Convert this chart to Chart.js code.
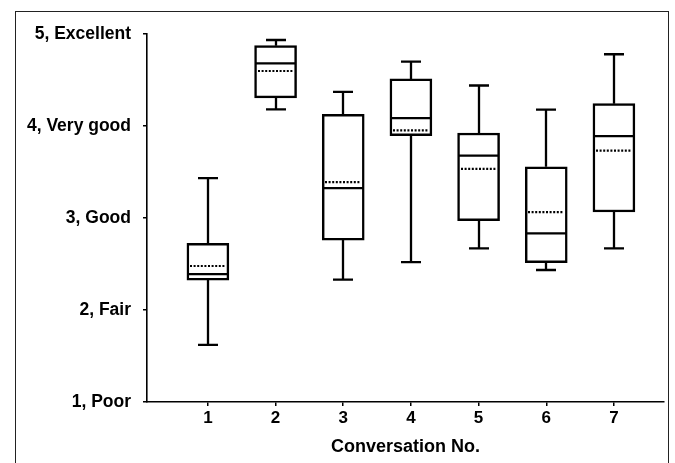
<!DOCTYPE html>
<html>
<head>
<meta charset="utf-8">
<script src="https://cdn.jsdelivr.net/npm/chart.js@4.4.1/dist/chart.umd.min.js"></script>
<style>
  html, body { margin: 0; padding: 0; background: #fff; overflow: hidden; }
  #frame { position: absolute; left: 15px; top: 11px; width: 652px; height: 480px;
           border-left: 1px solid #222; border-top: 1px solid #222; border-right: 1px solid #222; }
  #wrap { position: absolute; left: 0; top: 0; width: 675px; height: 463px; }
</style>
</head>
<body>
<div id="frame"></div>
<div id="wrap"><canvas id="c" width="675" height="463"></canvas></div>
<script>
const categories  = [1, 2, 3, 4, 5, 6, 7];
const whiskerLow  = [1.62, 4.18, 2.33, 2.52, 2.67, 2.435, 2.67];
const q1          = [2.325, 4.305, 2.76, 3.895, 2.97, 2.515, 3.065];
const median      = [2.39, 4.68, 3.325, 4.085, 3.677, 2.832, 3.89];
const mean        = [2.478, 4.598, 3.39, 3.953, 3.533, 3.064, 3.732];
const q3          = [2.725, 4.873, 4.127, 4.512, 3.924, 3.557, 4.243];
const whiskerHigh = [3.433, 4.935, 4.372, 4.70, 4.44, 4.179, 4.78];
const yTickValues = [1, 2, 3, 4, 5];
const yTickLabels = ['1, Poor', '2, Fair', '3, Good', '4, Very good', '5, Excellent'];
const xTitle = 'Conversation No.';

const BOX_W = 42, CAP_W = 20;

const boxPlugin = {
  id: 'boxExtras',
  afterDatasetsDraw(chart) {
    const {ctx, scales: {x, y}} = chart;
    ctx.save();
    ctx.strokeStyle = '#000';
    ctx.lineCap = 'butt';
    categories.forEach((c, i) => {
      const px = Math.round(x.getPixelForValue(c));
      const yHi = y.getPixelForValue(whiskerHigh[i]);
      const yQ3 = y.getPixelForValue(q3[i]);
      const yQ1 = y.getPixelForValue(q1[i]);
      const yLo = y.getPixelForValue(whiskerLow[i]);
      const yMed = y.getPixelForValue(median[i]);
      const yMean = y.getPixelForValue(mean[i]);
      ctx.lineWidth = 2.3;
      ctx.setLineDash([]);
      ctx.beginPath();
      ctx.moveTo(px, yQ3); ctx.lineTo(px, yHi);
      ctx.moveTo(px - CAP_W / 2, yHi); ctx.lineTo(px + CAP_W / 2, yHi);
      ctx.moveTo(px, yQ1); ctx.lineTo(px, yLo);
      ctx.moveTo(px - CAP_W / 2, yLo); ctx.lineTo(px + CAP_W / 2, yLo);
      ctx.moveTo(px - BOX_W / 2 + 1, yMed); ctx.lineTo(px + BOX_W / 2 - 1, yMed);
      ctx.stroke();
      ctx.beginPath();
      ctx.lineWidth = 2.2;
      ctx.setLineDash([2, 1.6]);
      ctx.moveTo(px - BOX_W / 2 + 3, yMean); ctx.lineTo(px + BOX_W / 2 - 3, yMean);
      ctx.stroke();
    });
    ctx.restore();
  }
};

new Chart(document.getElementById('c'), {
  type: 'bar',
  data: {
    datasets: [{
      data: categories.map((c, i) => ({x: c, y: [q1[i], q3[i]]})),
      backgroundColor: '#fff',
      borderColor: '#000',
      borderWidth: 2.5,
      borderSkipped: false,
      barThickness: BOX_W,
      grouped: false
    }]
  },
  options: {
    responsive: false,
    animation: false,
    devicePixelRatio: 1,
    layout: { padding: { top: 34, right: 11, bottom: 0, left: 0 } },
    plugins: { legend: { display: false }, tooltip: { enabled: false } },
    scales: {
      x: {
        type: 'linear',
        min: 0.1,
        max: 7.74,
        offset: false,
        afterBuildTicks: s => { s.ticks = categories.map(v => ({value: v})); },
        afterFit: s => { s.height = 61; },
        ticks: {
          color: '#000',
          padding: 2,
          font: { family: 'Liberation Sans, Arial, sans-serif', size: 17, weight: 'bold' },
          callback: v => String(v)
        },
        grid: { display: true, offset: false, drawOnChartArea: false, drawTicks: true, tickLength: 4, color: '#000', lineWidth: 1.5 },
        border: { display: true, color: '#000', width: 1.6 },
        title: {
          display: true,
          text: xTitle,
          color: '#000',
          padding: { top: 0, bottom: 5 },
          font: { family: 'Liberation Sans, Arial, sans-serif', size: 18, weight: 'bold' }
        }
      },
      y: {
        type: 'linear',
        min: 1,
        max: 5,
        afterBuildTicks: s => { s.ticks = yTickValues.map(v => ({value: v})); },
        afterFit: s => { s.width = 147; },
        ticks: {
          color: '#000',
          padding: 12,
          font: { family: 'Liberation Sans, Arial, sans-serif', size: 17.5, weight: 'bold' },
          callback: v => yTickLabels[yTickValues.indexOf(v)]
        },
        grid: { display: true, drawOnChartArea: false, drawTicks: true, tickLength: 4, color: '#000', lineWidth: 1.5 },
        border: { display: true, color: '#000', width: 1.6 }
      }
    }
  },
  plugins: [boxPlugin]
});
</script>
</body>
</html>
